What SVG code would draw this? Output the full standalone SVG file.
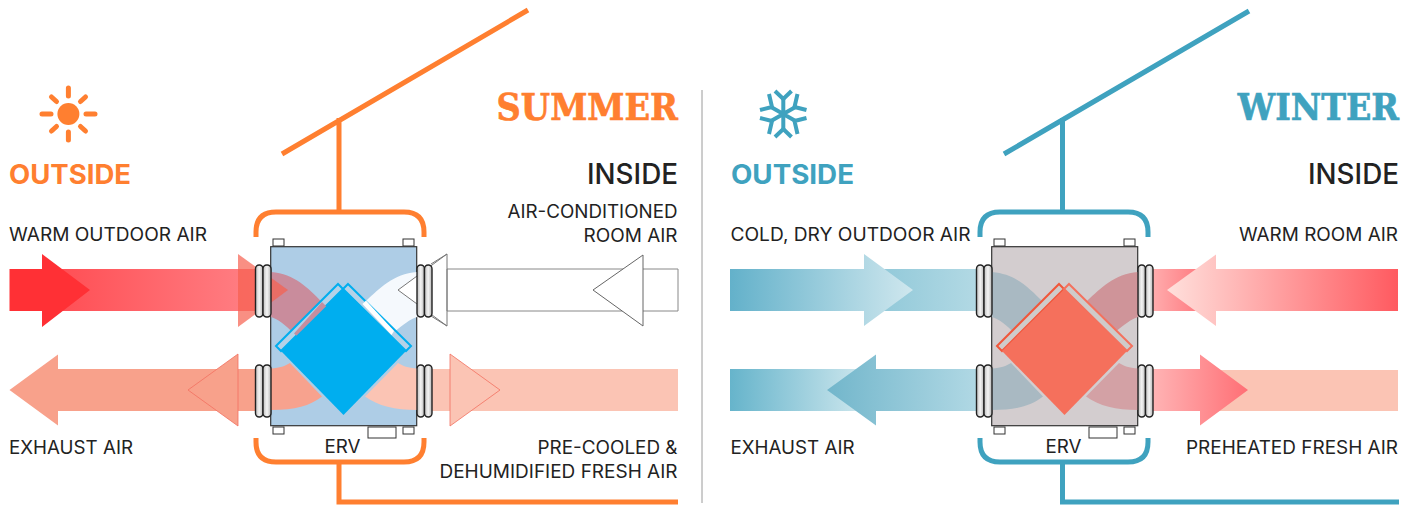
<svg xmlns="http://www.w3.org/2000/svg" width="1412" height="506" viewBox="0 0 1412 506">
<style>
text{font-family:"Inter","Lato","Liberation Sans",sans-serif;fill:#222;font-size:18px}
.h{font-size:28px;font-weight:500}
.o{font-size:26.500px;font-weight:700}
.t{font-family:"DejaVu Serif","Liberation Serif",serif;font-weight:700;font-size:37px;stroke-width:.7}
.e{text-anchor:end}
.line{fill:none;stroke-width:5}
.ol{stroke:#ff7f30}.bl{stroke:#3fa2bf}
.tab{fill:#fff;stroke:#333;stroke-width:1}
.gask{fill:url(#g);stroke:#222;stroke-width:1.400}
.box{stroke:#333;stroke-width:1.200}
</style>
<defs>
<linearGradient id="g" x1="0" y1="0" x2="1" y2="0"><stop offset="0" stop-color="#bdbdbd"/><stop offset=".5" stop-color="#f4f4f4"/><stop offset="1" stop-color="#b5b5b5"/></linearGradient>
<linearGradient id="s1" gradientUnits="userSpaceOnUse" x1="40" y1="0" x2="256" y2="0"><stop offset="0" stop-color="#ff4a50"/><stop offset="1" stop-color="#ff8085"/></linearGradient>
<linearGradient id="w1" gradientUnits="userSpaceOnUse" x1="730" y1="0" x2="976" y2="0"><stop offset="0" stop-color="#5fb0c8"/><stop offset="1" stop-color="#b2d9e4"/></linearGradient>
<linearGradient id="w1a" gradientUnits="userSpaceOnUse" x1="730" y1="0" x2="913" y2="0"><stop offset="0" stop-color="#63b1ca"/><stop offset="1" stop-color="#cfe7ee"/></linearGradient>
<linearGradient id="w2l" gradientUnits="userSpaceOnUse" x1="730" y1="0" x2="870" y2="0"><stop offset="0" stop-color="#66b4cb"/><stop offset="1" stop-color="#d2e9ef"/></linearGradient>
<linearGradient id="w2a" gradientUnits="userSpaceOnUse" x1="827" y1="0" x2="976" y2="0"><stop offset="0" stop-color="#72b6cb"/><stop offset="1" stop-color="#b0d8e4"/></linearGradient>
<linearGradient id="r1" gradientUnits="userSpaceOnUse" x1="1152" y1="0" x2="1200" y2="0"><stop offset="0" stop-color="#ffadae"/><stop offset="1" stop-color="#ff7a80"/></linearGradient>
<linearGradient id="r1a" gradientUnits="userSpaceOnUse" x1="1167" y1="0" x2="1398" y2="0"><stop offset="0" stop-color="#ffe0dc"/><stop offset="1" stop-color="#ff5a60"/></linearGradient>
<linearGradient id="r2" gradientUnits="userSpaceOnUse" x1="1152" y1="0" x2="1248" y2="0"><stop offset="0" stop-color="#ffb4b5"/><stop offset="1" stop-color="#ff6f75"/></linearGradient>
<g id="hw">
<rect class="tab" x="273" y="239" width="11" height="7"/><rect class="tab" x="403" y="239" width="11" height="7"/>
<rect class="tab" x="273" y="427" width="11" height="7"/><rect class="tab" x="403" y="427" width="11" height="7"/>
<rect class="tab" x="368" y="427" width="28" height="11"/>
</g>
<g id="gk">
<rect class="gask" x="255.500" y="265" width="7.500" height="52" rx="3.700"/><rect class="gask" x="263" y="265" width="8" height="52" rx="3.700"/>
<rect class="gask" x="255.500" y="365" width="7.500" height="52" rx="3.700"/><rect class="gask" x="263" y="365" width="8" height="52" rx="3.700"/>
<rect class="gask" x="417" y="265" width="7.500" height="52" rx="3.700"/><rect class="gask" x="424.500" y="265" width="7.500" height="52" rx="3.700"/>
<rect class="gask" x="417" y="365" width="7.500" height="52" rx="3.700"/><rect class="gask" x="424.500" y="365" width="7.500" height="52" rx="3.700"/>
</g>
<path id="bandL1" d="M271,272C295,274 308,288 322,302L294,333.500C285,325 278,319 271,317Z"/>
<path id="bandR1" d="M417,272C393,274 380,288 366,301L394,332C403,325 410,319 417,317Z"/>
<path id="bandL2" d="M271,368.500C280,368 285,366 290,363L322,396.500C310,406 295,410 271,410Z"/>
<path id="bandR2" d="M417,368.500C408,368 403,366 398,363L365,396.500C378,406 395,410 417,410Z"/>
</defs>

<line x1="702" y1="90" x2="702" y2="503" stroke="#9a9a9a" stroke-width="1"/>

<g id="connectors">
<g id="summer-structure" class="line ol">
<path d="M282,154L528,10M339,118V212"/>
<path d="M256,237V232Q256,212 276,212H404Q424,212 424,232V237"/>
<path d="M256,438V442Q256,462 276,462H404Q424,462 424,442V438"/>
<path d="M339,462V502H678"/>
</g>
<g id="winter-structure" class="line bl">
<path d="M1004,154L1249,11M1062.500,118V212"/>
<path d="M980,237V232Q980,212 1000,212H1128Q1148,212 1148,232V237"/>
<path d="M980,438V442Q980,462 1000,462H1128Q1148,462 1148,442V438"/>
<path d="M1062.500,462V502H1399"/>
</g>
</g>

<g id="summer-arrows">
<rect x="40" y="269" width="216" height="42" fill="url(#s1)"/>
<path d="M9.500,269H42V254L90,290L42,327V311H9.500Z" fill="#ff3035"/>
<path d="M9.500,390L58,354.500V369H256V411H58V425.500Z" fill="#f8a18b"/>
<rect x="431" y="369" width="247" height="42" fill="#fbc4b4"/>
<path d="M447,269H678V311H447Z" fill="#fff" stroke="#888"/>
<path d="M643,255L593,290L643,326Z" stroke="#666" fill="#fff"/>
</g>

<g id="winter-arrows">
<rect x="730" y="269" width="247" height="42" fill="url(#w1)"/>
<rect x="730" y="369" width="150" height="42" fill="url(#w2l)"/>
<path d="M730,269H864V254L913,290L864,326V311H730Z" fill="url(#w1a)"/>
<path d="M827,390L876,354.500V369H977V411H876V425.500Z" fill="url(#w2a)"/>
<rect x="1152" y="269" width="50" height="42" fill="url(#r1)"/>
<path d="M1167,290L1216,254.500V269H1398V311H1216V326Z" fill="url(#r1a)"/>
<rect x="1200" y="370" width="198" height="41" fill="#fbc4b4"/>
<path d="M1152,369H1200V354.500L1248,390L1200,425.500V411H1152Z" fill="url(#r2)"/>
</g>

<g id="erv-summer">
<use href="#hw"/>
<rect class="box" x="270.700" y="246.700" width="146" height="179" fill="#aecde6"/>
<use href="#bandL1" fill="#c98c9c"/>
<use href="#bandR1" fill="#f5f9fd"/>
<use href="#bandL2" fill="#f7a28e"/>
<use href="#bandR2" fill="#fbc4b4"/>
<path d="M276,346L338,284L343,289L281,351Z" fill="#b4d2e8" stroke="#00aeef" stroke-width="2"/>
<path d="M348,284L411,346L406,351L343,289Z" fill="#b4d2e8" stroke="#00aeef" stroke-width="2"/>
<path d="M294,333.500L322,302L327,307L298,337Z" fill="#c48ea0"/>
<path d="M362.500,304L366,300.500L394,331L391.500,335Z" fill="#fff"/>
<path d="M343.500,289L406,351L343.500,415L281,351Z" fill="#00aeef"/>
<path d="M238,254L288,290L238,327Z" fill="#f65f4e" fill-opacity=".7"/>
<path d="M431,264L447,254V326L431,316M447,254L398,290L447,326" fill="#fff" stroke="#777"/>
<path d="M238,354L188,390L238,426Z" fill="#f8a18b" stroke="#f2705f" stroke-width=".8"/>
<path d="M450,354L500,390L450,426Z" fill="#fbc4b4" stroke="#f2705f" stroke-width=".8"/>
<use href="#gk"/>
</g>

<g id="erv-winter">
<use href="#hw" x="721"/>
<rect class="box" x="991.700" y="246.700" width="146" height="179" fill="#d3cdcf"/>
<g transform="translate(721)">
<use href="#bandL1" fill="#a9b9c2"/>
<use href="#bandR1" fill="#cf9499"/>
<use href="#bandL2" fill="#a9b9c2"/>
<use href="#bandR2" fill="#d3a1a5"/>
<path d="M276,346L338,284L343,289L281,351Z" fill="#cfcbca" stroke="#f1563a" stroke-width="2"/>
<path d="M348,284L411,346L406,351L343,289Z" fill="#cfcbca" stroke="#f4715e" stroke-width="2"/>
<path d="M343.500,289L406,351L343.500,415L281,351Z" fill="#f5705c"/>
<use href="#gk"/>
</g>
</g>

<g id="sun">
<circle cx="68.400" cy="114" r="11" fill="#ff7f30"/>
<path d="M68.400,88V96M68.400,132V140M42,114H51M86,114H95M51.500,97L56.500,101.500M80.500,126.500L85.500,131M85.500,97L80.500,101.500M56.500,126.500L51.500,131" stroke="#ff7f30" stroke-width="5" stroke-linecap="round" fill="none"/>
</g>
<g id="snow" fill="none" stroke="#3fa2bf" stroke-width="4">
<path d="M783.300,99V130M771,107L795.500,121M795.500,107L771,121"/>
<path d="M775,91L783.300,99L791.500,91M775,137L783.300,129L791.500,137M769,94L772,107L760,110M797.500,94L794.500,107L806.500,110M769,134L772,121L760,118M797.500,134L794.500,121L806.500,118"/>
</g>

<g id="labels">
<text x="9" y="183.500" class="o" style="fill:#ff7f30" textLength="122" lengthAdjust="spacingAndGlyphs">OUTSIDE</text>
<text x="731" y="183.500" class="o" style="fill:#3fa2bf" textLength="123" lengthAdjust="spacingAndGlyphs">OUTSIDE</text>
<text transform="translate(678,120) scale(.908,1)" class="t e" style="fill:#ff7f30;stroke:#ff7f30">SUMMER</text>
<text transform="translate(1399,120) scale(.9,1)" class="t e" style="fill:#3fa2bf;stroke:#3fa2bf">WINTER</text>
<text x="678" y="183.500" class="h e" textLength="91" lengthAdjust="spacingAndGlyphs">INSIDE</text>
<text x="1399" y="183.500" class="h e" textLength="91" lengthAdjust="spacingAndGlyphs">INSIDE</text>
<text x="9" y="241" textLength="198" lengthAdjust="spacingAndGlyphs">WARM OUTDOOR AIR</text>
<text x="677.500" y="217.700" class="e" textLength="170" lengthAdjust="spacingAndGlyphs">AIR-CONDITIONED</text>
<text x="677.500" y="242" class="e" textLength="94" lengthAdjust="spacingAndGlyphs">ROOM AIR</text>
<text x="9" y="453.500" textLength="124" lengthAdjust="spacingAndGlyphs">EXHAUST AIR</text>
<text x="677.500" y="453.500" class="e" textLength="140" lengthAdjust="spacingAndGlyphs">PRE-COOLED &amp;</text>
<text x="677.500" y="477.500" class="e" textLength="238" lengthAdjust="spacingAndGlyphs">DEHUMIDIFIED FRESH AIR</text>
<text x="342.500" y="453" text-anchor="middle" textLength="36" lengthAdjust="spacingAndGlyphs">ERV</text>
<text x="730.500" y="241" textLength="240" lengthAdjust="spacingAndGlyphs">COLD, DRY OUTDOOR AIR</text>
<text x="1398" y="241" class="e" textLength="159" lengthAdjust="spacingAndGlyphs">WARM ROOM AIR</text>
<text x="730.500" y="453.500" textLength="124" lengthAdjust="spacingAndGlyphs">EXHAUST AIR</text>
<text x="1398" y="453.500" class="e" textLength="212" lengthAdjust="spacingAndGlyphs">PREHEATED FRESH AIR</text>
<text x="1063.500" y="453" text-anchor="middle" textLength="36" lengthAdjust="spacingAndGlyphs">ERV</text>
</g>
</svg>
